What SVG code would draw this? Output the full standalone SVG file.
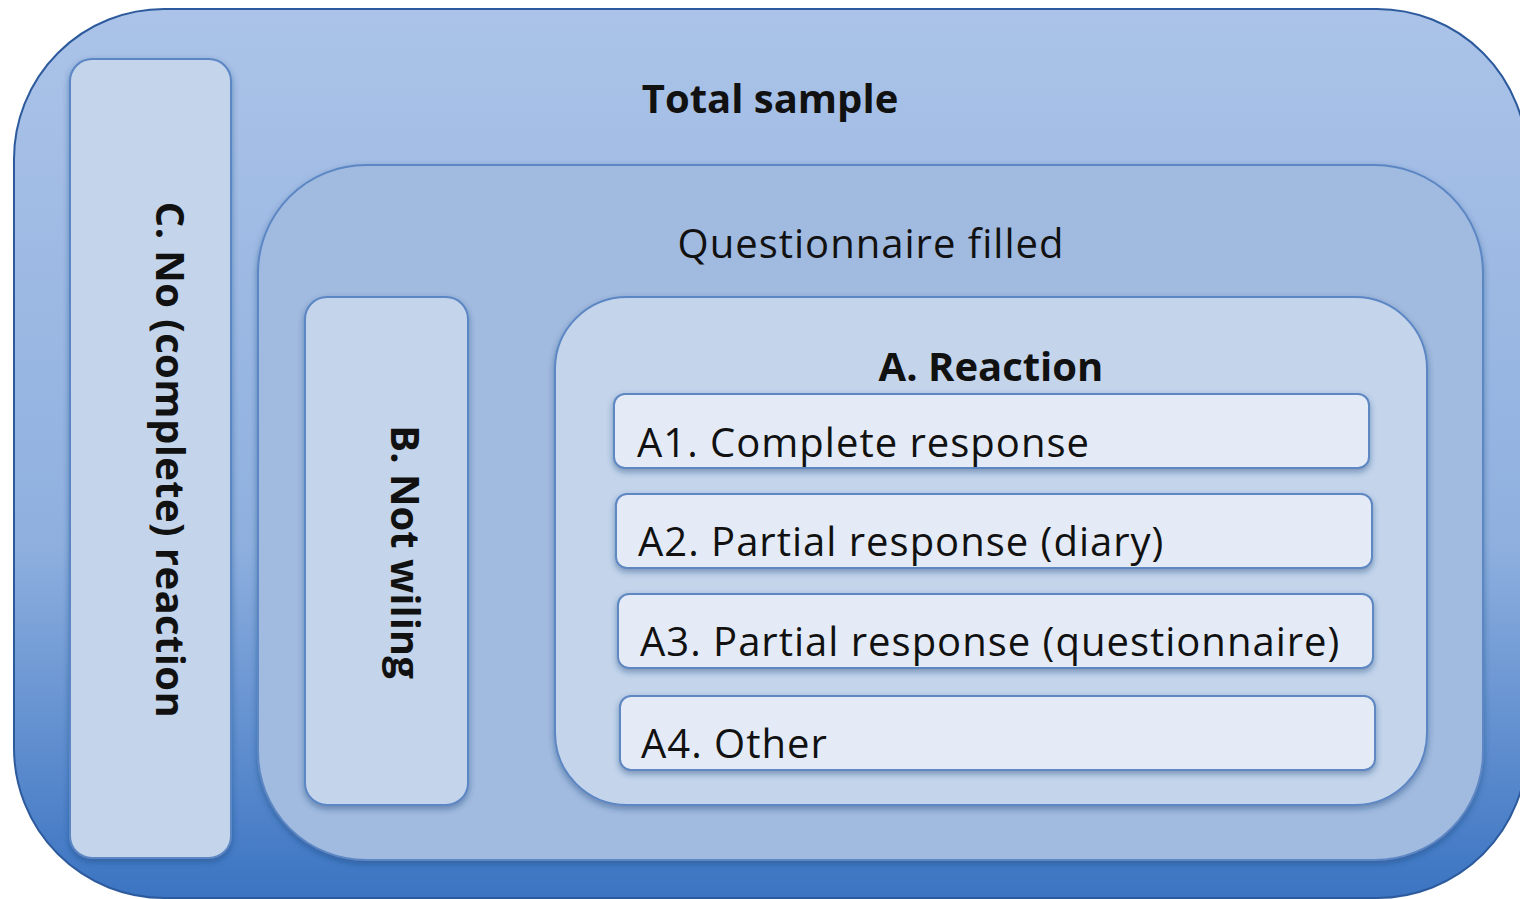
<svg xmlns="http://www.w3.org/2000/svg" width="1520" height="899" viewBox="0 0 1520 899">
<defs>
<linearGradient id="gOuter" x1="0" y1="0" x2="0" y2="1">
<stop offset="0" stop-color="#abc3e8"/>
<stop offset="0.6" stop-color="#8fb0df"/>
<stop offset="1" stop-color="#3b74c2"/>
</linearGradient>
<filter id="sh" x="-10%" y="-10%" width="120%" height="130%">
<feDropShadow dx="0" dy="3" stdDeviation="3" flood-color="#1f3f73" flood-opacity="0.45"/>
</filter>
<style>
.t{font-family:"Open Sans","Noto Sans","Liberation Sans",sans-serif;fill:#111;font-size:40px;}
.b{font-weight:bold;}
.w{letter-spacing:1px;}
.box{stroke:#5b86c4;stroke-width:2;}
.item{fill:#e4ebf6;stroke:#5f88c2;stroke-width:2;}
</style>
</defs>
<rect width="1520" height="899" fill="#ffffff"/>
<g id="total">
<rect x="14" y="9" width="1513" height="889" rx="150" fill="url(#gOuter)" stroke="#2d5a9c" stroke-width="2"/>
<text class="t b" x="770" y="113" text-anchor="middle">Total sample</text>
</g>
<g id="c-node">
<rect class="box" x="70" y="59" width="161" height="799" rx="22" fill="#c3d4eb" filter="url(#sh)"/>
<text class="t b" text-anchor="middle" letter-spacing="0.4" transform="translate(156,460) rotate(90)">C. No (complete) reaction</text>
</g>
<g id="questionnaire">
<rect class="box" x="258" y="165" width="1225" height="695" rx="108" fill="#a1badf" filter="url(#sh)"/>
<text class="t w" x="871" y="258" text-anchor="middle">Questionnaire filled</text>
</g>
<g id="b-node">
<rect class="box" x="305" y="297" width="163" height="508" rx="22" fill="#c3d4eb" filter="url(#sh)"/>
<text class="t b" text-anchor="middle" transform="translate(391,552) rotate(90)">B. Not wiling</text>
</g>
<g id="a-node">
<rect class="box" x="555" y="297" width="872" height="508" rx="72" fill="#c3d4eb" filter="url(#sh)"/>
<text class="t b" x="991" y="381" text-anchor="middle">A. Reaction</text>
</g>
<g id="a1">
<rect class="item" x="614" y="394" width="755" height="74" rx="11" filter="url(#sh)"/>
<text class="t w" x="637" y="457">A1. Complete response</text>
</g>
<g id="a2">
<rect class="item" x="616" y="494" width="756" height="74" rx="11" filter="url(#sh)"/>
<text class="t w" x="638" y="556">A2. Partial response (diary)</text>
</g>
<g id="a3">
<rect class="item" x="618" y="594" width="755" height="74" rx="11" filter="url(#sh)"/>
<text class="t w" x="640" y="656">A3. Partial response (questionnaire)</text>
</g>
<g id="a4">
<rect class="item" x="620" y="696" width="755" height="74" rx="11" filter="url(#sh)"/>
<text class="t w" x="641" y="758">A4. Other</text>
</g>
<g id="connectors"></g>
</svg>
